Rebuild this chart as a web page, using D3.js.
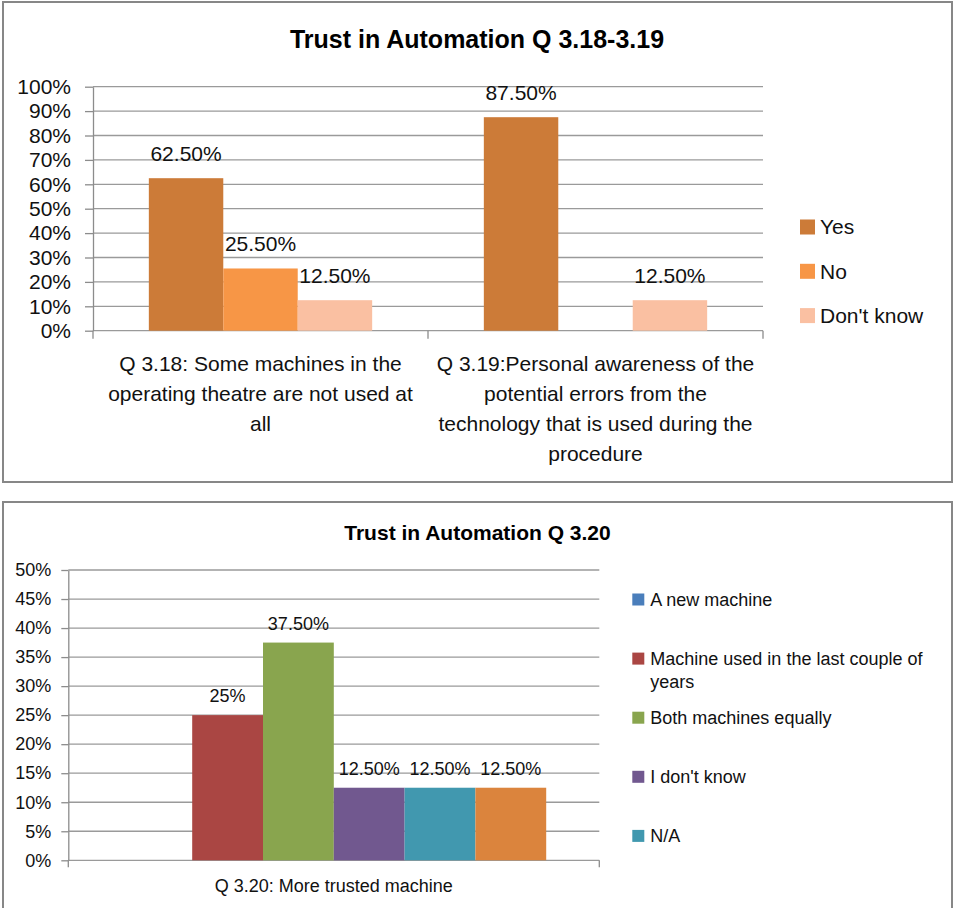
<!DOCTYPE html>
<html>
<head>
<meta charset="utf-8">
<script src="https://cdn.jsdelivr.net/npm/d3@7"></script>
<style>
body { margin: 0; background: #fff; }
svg { display: block; font-family: "Liberation Sans", Arial, sans-serif; }
</style>
</head>
<body>
<div id="chart"></div>
<script>
// ---- chart 1: Q 3.18-3.19 ----
var top_categories = [
	['Q 3.18: Some machines in the', 'operating theatre are not used at', 'all'],
	['Q 3.19:Personal awareness of the', 'potential errors from the', 'technology that is used during the', 'procedure']
];
var top_series = ['Yes', 'No', "Don't know"];
var top_colors = ['#cc7b38', '#f79646', '#fac0a2'];
var top_values = [
	[0.625, 0.875],   // Yes
	[0.255, 0],       // No
	[0.125, 0.125]    // Don't know
];
var top_labels = [
	['62.50%', '87.50%'],
	['25.50%', ''],
	['12.50%', '12.50%']
];
var top_ticks = [0, 0.1, 0.2, 0.3, 0.4, 0.5, 0.6, 0.7, 0.8, 0.9, 1];

// ---- chart 2: Q 3.20 ----
var bottom_categories = ['Q 3.20: More trusted machine'];
var bottom_series = [
	['A new machine'],
	['Machine used in the last couple of', 'years'],
	['Both machines equally'],
	["I don't know"],
	['N/A'],
	[]   // sixth series, its legend entry is cut off in the original
];
var bottom_colors = ['#4a7ebb', '#aa4643', '#89a54e', '#71588f', '#4198af', '#db843d'];
var bottom_values = [0, 0.25, 0.375, 0.125, 0.125, 0.125];
var bottom_labels = ['', '25%', '37.50%', '12.50%', '12.50%', '12.50%'];
var bottom_ticks = [0, 0.05, 0.1, 0.15, 0.2, 0.25, 0.3, 0.35, 0.4, 0.45, 0.5];

var width = 954;
var height = 908;
var grid_color = '#9a9a9a';
var axis_color = '#8c8c8c';

var svg = d3.select('#chart')
	.append('svg')
	.attr('width', width)
	.attr('height', height);

// frames
svg.append('rect')
	.attr('x', 3).attr('y', 2)
	.attr('width', 949).attr('height', 480)
	.attr('fill', '#fff')
	.attr('stroke', '#878787')
	.attr('stroke-width', 2);
svg.append('rect')
	.attr('x', 3).attr('y', 502)
	.attr('width', 949).attr('height', 430)
	.attr('fill', '#fff')
	.attr('stroke', '#878787')
	.attr('stroke-width', 2);

// shared bits: gridlines, y axis, category ticks
function drawFrame(g, y_scale, ticks, x_left, x_right, n_cat, tick_len, tick_pad, font_size) {
	g.selectAll('.grid')
		.data(ticks)
		.enter()
		.append('line')
		.attr('x1', x_left)
		.attr('x2', x_right)
		.attr('y1', function (d) { return y_scale(d); })
		.attr('y2', function (d) { return y_scale(d); })
		.attr('stroke', grid_color)
		.attr('stroke-width', 1.3);

	var y_axis = d3.axisLeft(y_scale)
		.tickValues(ticks)
		.tickFormat(d3.format('.0%'))
		.tickSize(tick_len)
		.tickSizeOuter(0)
		.tickPadding(tick_pad);
	var ax = g.append('g')
		.attr('transform', 'translate(' + x_left + ',0)')
		.call(y_axis);
	ax.select('.domain').attr('stroke', axis_color).attr('stroke-width', 1.3);
	ax.selectAll('.tick line').attr('stroke', axis_color).attr('stroke-width', 1.3);
	ax.selectAll('.tick text')
		.attr('fill', '#111')
		.style('font-size', font_size + 'px')
		.style('font-family', '"Liberation Sans", Arial, sans-serif');

	// category boundary ticks under the axis
	var y0 = y_scale(0);
	var step = (x_right - x_left) / n_cat;
	g.selectAll('.cat-tick')
		.data(d3.range(n_cat + 1))
		.enter()
		.append('line')
		.attr('x1', function (i) { return x_left + i * step; })
		.attr('x2', function (i) { return x_left + i * step; })
		.attr('y1', y0)
		.attr('y2', y0 + tick_len)
		.attr('stroke', axis_color)
		.attr('stroke-width', 1.3);
}

// ================= chart 1 =================
var g1 = svg.append('g');
var t_left = 93, t_right = 763, t_top = 86.7, t_bottom = 330.7;

var y1_scale = d3.scaleLinear()
	.domain([0, 1])
	.range([t_bottom, t_top]);
var x1_scale = d3.scaleBand()
	.domain(d3.range(top_categories.length))
	.range([t_left, t_right])
	.paddingInner(1 / 3)
	.paddingOuter(1 / 6);
var s1_scale = d3.scaleBand()
	.domain(d3.range(top_series.length))
	.range([0, x1_scale.bandwidth()]);

drawFrame(g1, y1_scale, top_ticks, t_left, t_right, top_categories.length, 8, 14, 21);

g1.append('text')
	.text('Trust in Automation Q 3.18-3.19')
	.attr('x', 477)
	.attr('y', 48)
	.attr('text-anchor', 'middle')
	.attr('font-weight', 'bold')
	.attr('font-size', 25)
	.attr('fill', '#000');

// bars
top_series.forEach(function (s, si) {
	top_values[si].forEach(function (v, ci) {
		var bx = x1_scale(ci) + s1_scale(si);
		g1.append('rect')
			.attr('x', bx)
			.attr('y', y1_scale(v))
			.attr('width', s1_scale.bandwidth())
			.attr('height', y1_scale(0) - y1_scale(v))
			.attr('fill', top_colors[si]);
		if (top_labels[si][ci]) {
			g1.append('text')
				.text(top_labels[si][ci])
				.attr('x', bx + s1_scale.bandwidth() / 2)
				.attr('y', y1_scale(v) - 17)
				.attr('text-anchor', 'middle')
				.attr('font-size', 21)
				.attr('fill', '#111');
		}
	});
});

// category labels
top_categories.forEach(function (lines, ci) {
	g1.append('text')
		.attr('text-anchor', 'middle')
		.attr('font-size', 21)
		.attr('fill', '#111')
		.selectAll('tspan')
		.data(lines)
		.enter()
		.append('tspan')
		.attr('x', x1_scale(ci) + x1_scale.bandwidth() / 2)
		.attr('y', function (d, i) { return t_bottom + 40 + i * 30; })
		.text(function (d) { return d; });
});

// legend
var leg1 = g1.selectAll('.leg')
	.data(top_series)
	.enter()
	.append('g')
	.attr('transform', function (d, i) { return 'translate(800,' + (227 + i * 44.3) + ')'; });
leg1.append('rect')
	.attr('x', 0).attr('y', -7.5)
	.attr('width', 15).attr('height', 15)
	.attr('fill', function (d, i) { return top_colors[i]; });
leg1.append('text')
	.text(function (d) { return d; })
	.attr('x', 20)
	.attr('dy', '0.35em')
	.attr('font-size', 21)
	.attr('fill', '#111');

// ================= chart 2 =================
var g2 = svg.append('g');
var b_left = 68.3, b_right = 599.3, b_top = 570, b_bottom = 860.3;

var y2_scale = d3.scaleLinear()
	.domain([0, 0.5])
	.range([b_bottom, b_top]);
var x2_scale = d3.scaleBand()
	.domain(d3.range(bottom_categories.length))
	.range([b_left, b_right])
	.paddingInner(0.2)
	.paddingOuter(0.1);
var s2_scale = d3.scaleBand()
	.domain(d3.range(bottom_values.length))
	.range([0, x2_scale.bandwidth()]);

drawFrame(g2, y2_scale, bottom_ticks, b_left, b_right, bottom_categories.length, 7, 10, 18);

g2.append('text')
	.text('Trust in Automation Q 3.20')
	.attr('x', 477.5)
	.attr('y', 540)
	.attr('text-anchor', 'middle')
	.attr('font-weight', 'bold')
	.attr('font-size', 21)
	.attr('fill', '#000');

g2.selectAll('.bar')
	.data(bottom_values)
	.enter()
	.append('rect')
	.attr('x', function (d, i) { return x2_scale(0) + s2_scale(i); })
	.attr('y', function (d) { return y2_scale(d); })
	.attr('width', s2_scale.bandwidth())
	.attr('height', function (d) { return y2_scale(0) - y2_scale(d); })
	.attr('fill', function (d, i) { return bottom_colors[i]; });

g2.selectAll('.val')
	.data(bottom_values)
	.enter()
	.append('text')
	.text(function (d, i) { return bottom_labels[i]; })
	.attr('x', function (d, i) { return x2_scale(0) + s2_scale(i) + s2_scale.bandwidth() / 2; })
	.attr('y', function (d) { return y2_scale(d) - 13; })
	.attr('text-anchor', 'middle')
	.attr('font-size', 18)
	.attr('fill', '#111');

g2.append('text')
	.text(bottom_categories[0])
	.attr('x', x2_scale(0) + x2_scale.bandwidth() / 2)
	.attr('y', b_bottom + 32)
	.attr('text-anchor', 'middle')
	.attr('font-size', 18)
	.attr('fill', '#111');

// legend (only entries that are visible in the original)
var leg2 = g2.selectAll('.leg')
	.data(bottom_series.filter(function (d) { return d.length > 0; }))
	.enter()
	.append('g')
	.attr('transform', function (d, i) { return 'translate(632.3,' + (599.5 + i * 59.1) + ')'; });
leg2.append('rect')
	.attr('x', 0).attr('y', -6)
	.attr('width', 12).attr('height', 12)
	.attr('fill', function (d, i) { return bottom_colors[i]; });
leg2.append('text')
	.attr('font-size', 18)
	.attr('fill', '#111')
	.selectAll('tspan')
	.data(function (d) { return d; })
	.enter()
	.append('tspan')
	.attr('x', 18)
	.attr('y', function (d, i) { return i * 23.5; })
	.attr('dy', '0.35em')
	.text(function (d) { return d; });
</script>
</body>
</html>
